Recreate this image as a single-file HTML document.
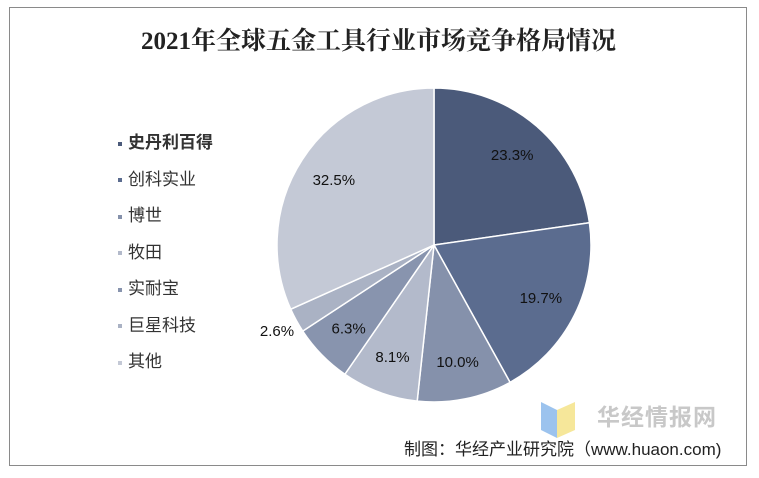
<!DOCTYPE html>
<html><head><meta charset="utf-8"><style>
body{margin:0;width:759px;height:478px;background:#fff;overflow:hidden;position:relative;font-family:"Liberation Sans","Noto Sans CJK SC",sans-serif}
#frame{position:absolute;left:9px;top:7px;width:738px;height:459px;border:1.5px solid #8a8a8a;box-sizing:border-box}
#title{position:absolute;left:0;width:757px;top:21px;text-align:center;font-family:"Liberation Serif","Noto Serif CJK SC",serif;font-weight:bold;font-size:25px;color:#222}
.leg{position:absolute;left:118px;font-size:17px;color:#333}
.leg i{display:inline-block;width:4px;height:4px;margin-right:6px;vertical-align:middle}
#src{position:absolute;left:404px;top:435px;font-size:17px;color:#222;white-space:nowrap}
#wm{position:absolute;left:597px;top:398px;font-size:23px;font-weight:bold;color:#c8c8c8;letter-spacing:1px}
</style></head><body>
<div id="frame"></div>
<div id="title">2021年全球五金工具行业市场竞争格局情况</div>
<div id="legend"></div>
<svg id="pie" width="759" height="478" style="position:absolute;left:0;top:0">
<g>
<path d="M541 402 L557 410 L557 438 L541 430Z" fill="#9cc3ee"/>
<path d="M557 410 L575 402 L575 430 L557 438Z" fill="#f6e79a"/>
</g>
</svg>
<div id="wm">华经情报网</div>
<div id="src">制图：华经产业研究院（www.huaon.com)</div>
<script>
const categories=["史丹利百得","创科实业","博世","牧田","实耐宝","巨星科技","其他"];
const values=[23.3,19.7,10.0,8.1,6.3,2.6,32.5];
const labels=["23.3%","19.7%","10.0%","8.1%","6.3%","2.6%","32.5%"];
const colors=["#4b5a7a","#5b6c8f","#8591ab","#b3bacb","#8894ae","#aab2c4","#c4c9d6"];
const legendColors=["#4b5a7a","#5b6c8f","#8591ab","#b3bacb","#8894ae","#aab2c4","#c4c9d6"];
const svg=document.getElementById('pie');const NS="http://www.w3.org/2000/svg";
const cx=434,cy=245,r=157;
const total=values.reduce((a,b)=>a+b,0);
let a0=-Math.PI/2;
const pt=(a,rr)=>[cx+rr*Math.cos(a),cy+rr*Math.sin(a)];
values.forEach((v,i)=>{
  const a1=a0+v/total*2*Math.PI;
  const p0=pt(a0,r),p1=pt(a1,r);
  const p=document.createElementNS(NS,'path');
  p.setAttribute('d',`M${cx} ${cy} L${p0[0]} ${p0[1]} A${r} ${r} 0 ${a1-a0>Math.PI?1:0} 1 ${p1[0]} ${p1[1]}Z`);
  p.setAttribute('fill',colors[i]);p.setAttribute('stroke','#fff');p.setAttribute('stroke-width','1.5');
  
  
  svg.appendChild(p);
  const am=(a0+a1)/2;const lr=v<4?r+22:r*0.76;
  const lp=pt(am,lr);
  const t=document.createElementNS(NS,'text');
  t.setAttribute('x',lp[0]);t.setAttribute('y',lp[1]+5);t.setAttribute('text-anchor','middle');
  t.setAttribute('font-size','15');t.setAttribute('fill','#111');t.textContent=labels[i];
  
  
  svg.appendChild(t);
  a0=a1;
});
const leg=document.getElementById('legend');
categories.forEach((c,i)=>{
  const d=document.createElement('div');d.className='leg';d.style.top=(128+i*36.5)+'px';
  if(i===0){d.style.fontWeight='bold';}
  d.innerHTML='<i style="background:'+legendColors[i]+'"></i>'+c;
  
  
  leg.appendChild(d);
});
</script>
</body></html>
